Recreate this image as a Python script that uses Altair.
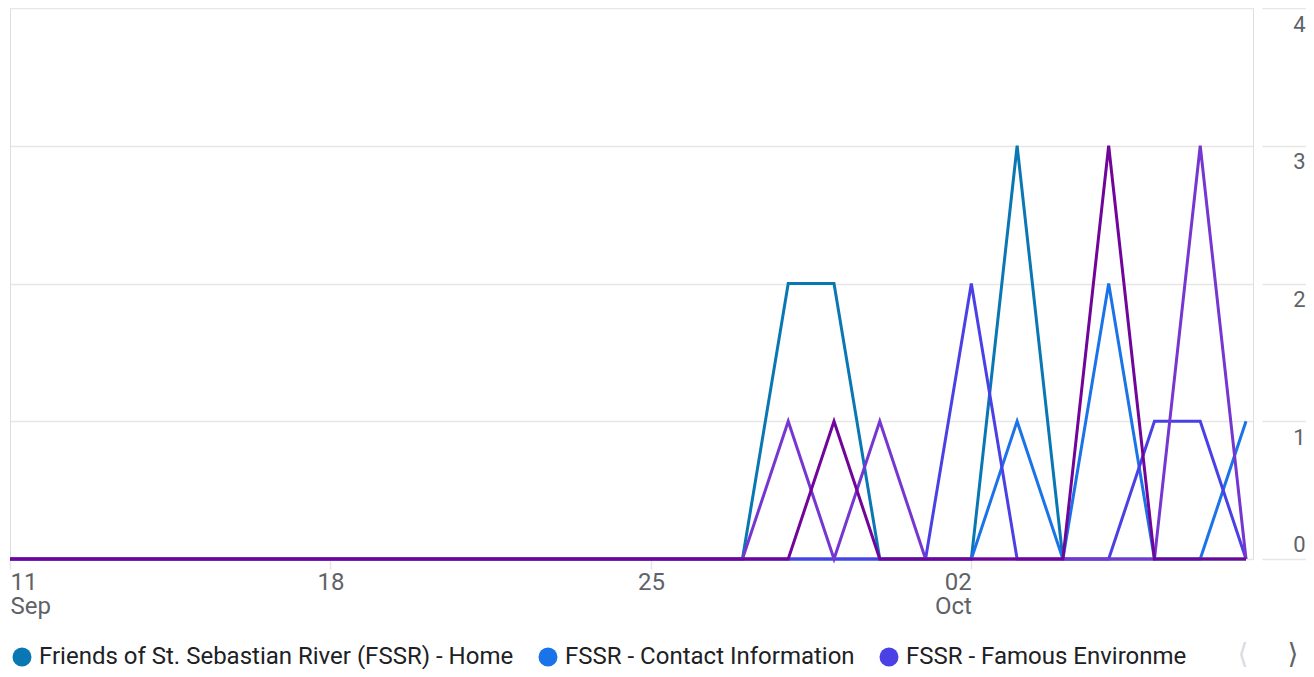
import altair as alt
import pandas as pd

# ---- data ----
dates = [
    "2023-09-11", "2023-09-12", "2023-09-13", "2023-09-14", "2023-09-15", "2023-09-16", "2023-09-17",
    "2023-09-18", "2023-09-19", "2023-09-20", "2023-09-21", "2023-09-22", "2023-09-23", "2023-09-24",
    "2023-09-25", "2023-09-26", "2023-09-27", "2023-09-28", "2023-09-29", "2023-09-30", "2023-10-01",
    "2023-10-02", "2023-10-03", "2023-10-04", "2023-10-05", "2023-10-06", "2023-10-07", "2023-10-08",
]
series_names = [
    "Friends of St. Sebastian River (FSSR) - Home",
    "FSSR - Contact Information",
    "FSSR - Famous Environmentalists",
    "FSSR - Events",
    "FSSR - About Us",
]
home =    [0, 0, 0, 0, 0, 0, 0, 0, 0, 0, 0, 0, 0, 0, 0, 0, 0, 2, 2, 0, 0, 0, 3, 0, 0, 0, 0, 0]
contact = [0, 0, 0, 0, 0, 0, 0, 0, 0, 0, 0, 0, 0, 0, 0, 0, 0, 0, 0, 0, 0, 0, 1, 0, 2, 0, 0, 1]
famous =  [0, 0, 0, 0, 0, 0, 0, 0, 0, 0, 0, 0, 0, 0, 0, 0, 0, 0, 0, 0, 0, 2, 0, 0, 0, 1, 1, 0]
events =  [0, 0, 0, 0, 0, 0, 0, 0, 0, 0, 0, 0, 0, 0, 0, 0, 0, 1, 0, 1, 0, 0, 0, 0, 0, 0, 3, 0]
about =   [0, 0, 0, 0, 0, 0, 0, 0, 0, 0, 0, 0, 0, 0, 0, 0, 0, 0, 1, 0, 0, 0, 0, 0, 3, 0, 0, 0]
series_colors = ["#0877b3", "#1a73e8", "#4a40e6", "#7636d0", "#71059a"]

y_ticks = [0, 1, 2, 3, 4]
x_tick_dates = [(2023, 9, 11), (2023, 9, 18), (2023, 9, 25), (2023, 10, 2)]
x_tick_labels = [["11", "Sep"], "18", "25", ["02", "Oct"]]
legend_shown = series_names[:3]
legend_short = {series_names[2]: "FSSR - Famous Environme"}

# ---- build table ----
rows = []
for name, vals in zip(series_names, [home, contact, famous, events, about]):
    for d, v in zip(dates, vals):
        rows.append({"date": d, "series": name, "value": v})
df = pd.DataFrame(rows)

grid = "#e6e6e6"
axis_text = "#5f6368"

def lbl(v):
    if isinstance(v, list):
        return "[" + ", ".join("'" + s + "'" for s in v) + "]"
    return "'" + v + "'"

label_expr = ""
for (yy, mm, dd), lab in zip(x_tick_dates, x_tick_labels):
    label_expr += f"(utcmonth(datum.value) == {mm - 1} && utcdate(datum.value) == {dd}) ? {lbl(lab)} : "
label_expr += "utcFormat(datum.value, '%d')"

x_values = [alt.DateTime(year=y, month=m, date=d, utc=True) for (y, m, d) in x_tick_dates]

color_scale = alt.Scale(domain=series_names, range=series_colors)

x_enc = alt.X(
    "date:T",
    title=None,
    scale=alt.Scale(
        type="utc",
        domain=[
            alt.DateTime(year=2023, month=9, date=11, utc=True),
            alt.DateTime(year=2023, month=10, date=8, hours=3, minutes=40, utc=True),
        ],
    ),
    axis=alt.Axis(
        values=x_values,
        labelExpr=label_expr,
        grid=False,
        domain=False,
        ticks=True,
        tickSize=10,
        tickColor=grid,
        tickWidth=1.5,
        labelFont="Roboto",
        labelFontSize=24,
        labelColor=axis_text,
        labelLineHeight=24,
        labelPadding=1,
        labelBaseline="top",
        labelFlush=False,
        labelOverlap=False,
        labelBound=False,
        labelAlign={
            "condition": [
                {"test": "utcmonth(datum.value) == 8 && utcdate(datum.value) == 11", "value": "left"},
                {"test": "utcmonth(datum.value) == 9 && utcdate(datum.value) == 2", "value": "right"},
            ],
            "value": "center",
        },
    ),
)

y_enc = alt.Y(
    "value:Q",
    title=None,
    scale=alt.Scale(domain=[0, 4], nice=False),
    axis=alt.Axis(
        orient="right",
        values=y_ticks,
        format="d",
        grid=True,
        gridColor=grid,
        gridWidth=1.5,
        domain=False,
        offset=9,
        ticks=True,
        tickSize=44,
        tickColor=grid,
        tickWidth=1.5,
        labelAlign="right",
        labelPadding=-1,
        labelFont="Roboto",
        labelFontSize=22,
        labelColor=axis_text,
        labelFlush=False,
        labelOverlap=False,
        labelBound=False,
        labelBaseline={"condition": {"test": "datum.value == 0", "value": "alphabetic"}, "value": "top"},
        labelOffset={"condition": {"test": "datum.value == 0", "value": -8}, "value": 6},
    ),
)

lines = alt.Chart(df).mark_line(strokeWidth=3, strokeJoin="miter", strokeCap="butt").encode(
    x=x_enc,
    y=y_enc,
    color=alt.Color("series:N", scale=color_scale, legend=None),
)

short_expr = " : ".join(
    [f"datum.label == '{k}' ? '{v}'" for k, v in legend_short.items()] + ["datum.label"]
)

legend_pts = alt.Chart(df).mark_circle(opacity=1, size=0).transform_filter(
    "datum.value > 99"
).encode(
    x="date:T",
    y="value:Q",
    color=alt.Color(
        "series:N",
        scale=color_scale,
        legend=alt.Legend(
            orient="none",
            legendX=0,
            legendY=637,
            direction="horizontal",
            title=None,
            values=legend_shown,
            symbolType="circle",
            symbolSize=360,
            symbolStrokeWidth=0,
            labelFont="Roboto",
            labelFontSize=24,
            labelColor="#202124",
            labelOffset=5,
            labelLimit=800,
            columnPadding=22,
            labelExpr=short_expr,
        ),
    ),
)

arrow_left = alt.Chart(alt.Data(values=[{"k": 1}])).mark_text(
    text="⟨", font="DejaVu Sans", fontSize=28, color="#dadce0", align="center", baseline="middle"
).encode(x=alt.value(1233), y=alt.value(647))

arrow_right = alt.Chart(alt.Data(values=[{"k": 1}])).mark_text(
    text="⟩", font="DejaVu Sans", fontSize=28, color="#5f6368", align="center", baseline="middle"
).encode(x=alt.value(1283), y=alt.value(647))

chart = (
    alt.layer(lines, legend_pts, arrow_left, arrow_right)
    .resolve_legend(color="independent")
    .properties(
        width=1243,
        height=551,
        autosize=alt.AutoSizeParams(type="none"),
        padding={"left": 2, "top": 0, "right": 53, "bottom": 110},
    )
    .configure_view(strokeWidth=0)
    .configure(font="Roboto")
)

chart.save("out.html", embed_options={"renderer": "svg", "actions": False})
